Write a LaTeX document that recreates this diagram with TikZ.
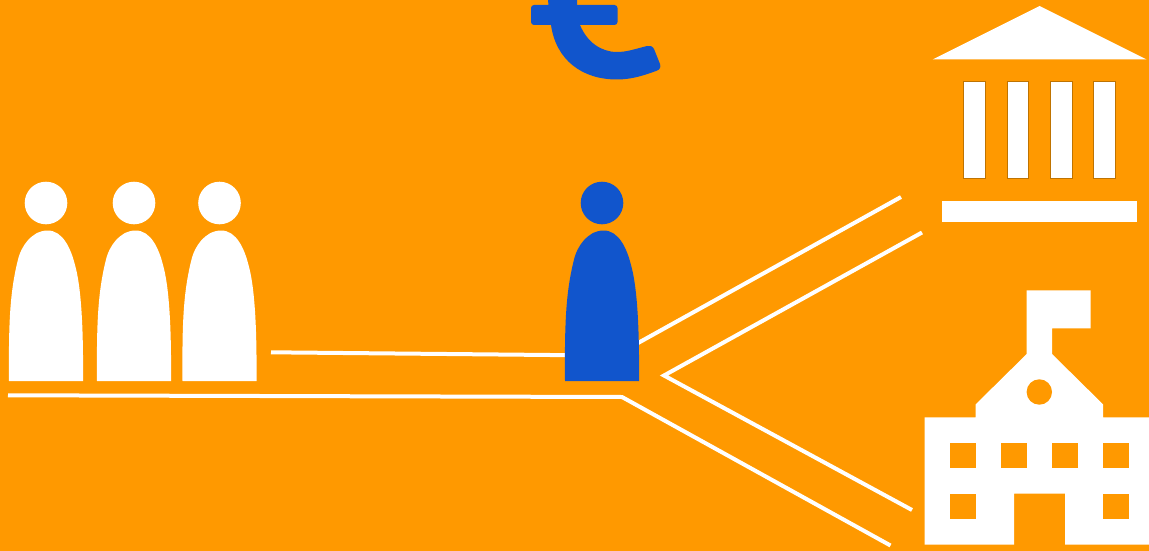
\documentclass[tikz,border=0pt]{standalone}
\usepackage{tikz}
\definecolor{bgorange}{HTML}{FF9900}
\definecolor{iconblue}{HTML}{1155CC}
\tikzset{
  every picture/.style={line width=0.75pt},
  road/.style={draw=white, line width=4pt, line join=miter},
  solidwhite/.style={fill=white, draw=none},
  columnbar/.style={fill=white, draw=black!25!bgorange, line width=0.3pt},
  hole/.style={fill=bgorange, draw=none},
  pics/person/.style={code={
    \fill[#1] (0,-178) circle (21.3);
    \fill[#1] (-37,0) .. controls (-37.5,-60) and (-36,-90) .. (-27.7,-122.7)
      .. controls (-25,-133.3) and (-15,-150.5) .. (1.7,-150.5)
      .. controls (17,-150.5) and (25,-132) .. (29,-116)
      .. controls (35,-95) and (37.5,-55) .. (37,0) -- cycle;
  }}
}
\begin{document}
\begin{tikzpicture}[x=1pt, y=-1pt]
  \fill[bgorange] (0,0) rectangle (1149,551);
  \useasboundingbox (0,0) rectangle (1149,551);

  % end points of the roads
  \coordinate (a1) at (271,352.3);
  \coordinate (a2) at (602,355.5);
  \coordinate (a3) at (901,197);
  \coordinate (a4) at (602,363);
  \coordinate (b1) at (922,232.5);
  \coordinate (b2) at (664,375.5);
  \coordinate (b3) at (912,510);
  \coordinate (c1) at (8,395.3);
  \coordinate (c2) at (622,397);
  \coordinate (c3) at (890.5,545.5);
  \draw[road] (a1) -- (a2);
  \draw[road] (a4) -- (a3);
  \draw[road] (b1) -- (b2) -- (b3);
  \draw[road] (c1) -- (c2) -- (c3);

  % people
  \foreach \px in {46,134,219.5}
    \pic at (\px,381) {person=white};
  \pic at (602,381) {person=iconblue};

  % currency sign
  \fill[iconblue] (548,0) .. controls (549,10) and (550,18) .. (551,25)
    .. controls (556,60) and (582,79.5) .. (617,79.5)
    .. controls (632,79.5) and (645,75) .. (656,71)
    .. controls (660,70) and (661,67) .. (660,64)
    -- (654,49) .. controls (652.5,46) and (650,45.5) .. (647,46)
    .. controls (635,49) and (627,52) .. (617,52)
    .. controls (601,52) and (587,42) .. (580,25)
    .. controls (578,17) and (577,8) .. (577,0) -- cycle;
  \fill[iconblue, rounded corners=3pt] (531,5) rectangle (617.5,25);

  % bank
  \fill[solidwhite] (1039.5,6) -- (1146.5,59.5) -- (932.5,59.5) -- cycle;
  \foreach \cx in {963.5,1007,1050.5,1093.5}
    \filldraw[columnbar] (\cx,81.5) rectangle ++(21.5,97);
  \fill[solidwhite] (942,201) rectangle (1137,222);

  % school
  \fill[solidwhite] (924.7,544.5) -- (924.7,417.3) -- (975.7,417.3) -- (975.7,404.3)
    -- (1026.7,354) -- (1026.7,290.3) -- (1090.7,290.3) -- (1090.7,328.3) -- (1052,328.3)
    -- (1052,354) -- (1103,404.3) -- (1103,417.3) -- (1149,417.3) -- (1149,544.5)
    -- (1065,544.5) -- (1065,493.7) -- (1014,493.7) -- (1014,544.5) -- cycle;
  \fill[hole] (1039.3,392) circle (12.7);
  \foreach \wx in {950,1001,1052,1103}
    \fill[hole] (\wx,443) rectangle ++(25.6,25.4);
  \foreach \wx in {950,1103}
    \fill[hole] (\wx,493.7) rectangle ++(25.6,25.4);
\end{tikzpicture}
\end{document}
